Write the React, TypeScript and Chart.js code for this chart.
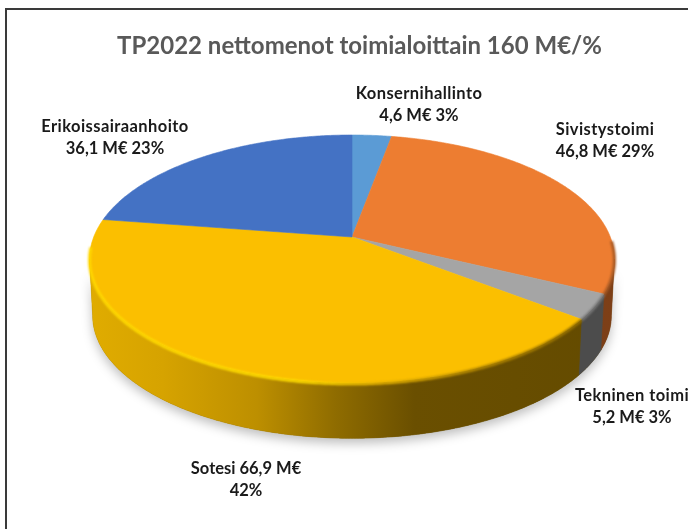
import React, { useEffect, useRef } from "react";
import { Chart, registerables } from "chart.js";

Chart.register(...registerables);

const categories = ["Konsernihallinto", "Sivistystoimi", "Tekninen toimi", "Sotesi", "Erikoissairaanhoito"];
const valuesMeur = [4.6, 46.8, 5.2, 66.9, 36.1];
const valueTexts = ["4,6 M€", "46,8 M€", "5,2 M€", "66,9 M€", "36,1 M€"];
const percentTexts = ["3%", "29%", "3%", "42%", "23%"];
const sliceColors = ["#5B9BD5", "#ED7D31", "#A5A5A5", "#FBBF00", "#4472C4"];
const titleText = "TP2022 nettomenot toimialoittain 160 M€/%";

// wall shading per slice: [position along x 0..1 of pie width, colour]
const wallStops: [number, string][][] = [
  [[0, "#2f5d86"], [1, "#2f5d86"]],
  [[0, "#6e3a16"], [1, "#7d3f17"]],
  [[0, "#4c4c4c"], [1, "#4c4c4c"]],
  [[0, "#e0ac00"], [0.14, "#d6a300"], [0.32, "#bd8f00"], [0.47, "#8f6c00"], [0.62, "#6a4f00"], [1, "#644b00"]],
  [[0, "#2b4a80"], [1, "#2b4a80"]],
];
const rimStops: [number, string][][] = [
  [[0, "#5B9BD5"], [1, "#5B9BD5"]],
  [[0, "#a85a24"], [1, "#a85a24"]],
  [[0, "#777777"], [1, "#777777"]],
  [[0, "#ffd800"], [0.4, "#ffdc00"], [0.55, "#e8b400"], [0.75, "#b08500"], [1, "#8a6800"]],
  [[0, "#4472C4"], [1, "#4472C4"]],
];
const labelLines: string[][] = [
  [categories[0], `${valueTexts[0]} ${percentTexts[0]}`],
  [categories[1], `${valueTexts[1]} ${percentTexts[1]}`],
  [categories[2], `${valueTexts[2]} ${percentTexts[2]}`],
  [`${categories[3]} ${valueTexts[3]}`, percentTexts[3]],
  [categories[4], `${valueTexts[4]} ${percentTexts[4]}`],
];
const labelAnchors = [
  { x: 419, y: 94 },
  { x: 605, y: 130 },
  { x: 632, y: 396 },
  { x: 246, y: 469 },
  { x: 115, y: 127 },
];

// perspective projection of the pie plane
const CX = 352, CY = 237, RX = 258.3, RY = 120.1, TILT = 0.1775, DEPTH = 57;
const PIE_L = 89, PIE_W = 525;

function project(a: number, r: number, h: number) {
  const u = Math.cos(a) * r, v = Math.sin(a) * r;
  const w = 1 - TILT * v;
  const s = 1 - 0.012 * h;
  return { x: CX + (RX * s * u) / w, y: CY + (RY * s * v) / w + DEPTH * h };
}

function tracePoints(ctx: CanvasRenderingContext2D, a0: number, a1: number, h: number, first: boolean) {
  const n = Math.max(2, Math.ceil(Math.abs(a1 - a0) / 0.01));
  for (let i = 0; i <= n; i++) {
    const a = a0 + ((a1 - a0) * i) / n;
    const p = project(a, 1, h);
    if (i === 0 && first) ctx.moveTo(p.x, p.y);
    else ctx.lineTo(p.x, p.y);
  }
}

function xGradient(ctx: CanvasRenderingContext2D, stops: [number, string][]) {
  const g = ctx.createLinearGradient(PIE_L, 0, PIE_L + PIE_W, 0);
  stops.forEach(([p, c]) => g.addColorStop(p, c));
  return g;
}

const pie3dPlugin = {
  id: "pie3d",
  beforeDraw(chart: any) {
    const { ctx, width, height } = chart;
    ctx.save();
    ctx.fillStyle = "#ffffff";
    ctx.fillRect(0, 0, width, height);
    ctx.strokeStyle = "#3a3a3a";
    ctx.lineWidth = 2;
    ctx.beginPath();
    ctx.moveTo(6, height + 4);
    ctx.lineTo(6, 9);
    ctx.lineTo(width + 4, 9);
    ctx.stroke();
    ctx.restore();
  },
  beforeDatasetsDraw(chart: any) {
    const { ctx } = chart;
    const arcs = chart.getDatasetMeta(0).data;
    const silhouette = Math.asin(TILT);
    ctx.save();

    // soft ground shadow
    ctx.save();
    ctx.shadowColor = "rgba(0,0,0,0.26)";
    ctx.shadowBlur = 11;
    ctx.shadowOffsetY = 5;
    ctx.fillStyle = "#6a4f00";
    ctx.beginPath();
    tracePoints(ctx, silhouette, Math.PI - silhouette, 1, true);
    tracePoints(ctx, Math.PI - silhouette, silhouette, 0, false);
    ctx.closePath();
    ctx.fill();
    ctx.restore();

    // side walls
    arcs.forEach((arc: any, i: number) => {
      const a0 = Math.max(arc.startAngle, silhouette);
      const a1 = Math.min(arc.endAngle, Math.PI - silhouette);
      if (a1 <= a0) return;
      ctx.beginPath();
      tracePoints(ctx, a0, a1, 0, true);
      tracePoints(ctx, a1, a0, 1, false);
      ctx.closePath();
      ctx.fillStyle = xGradient(ctx, wallStops[i]);
      ctx.strokeStyle = ctx.fillStyle;
      ctx.lineWidth = 0.6;
      ctx.fill();
      ctx.stroke();
    });

    // top face
    arcs.forEach((arc: any, i: number) => {
      ctx.beginPath();
      ctx.moveTo(CX, CY);
      tracePoints(ctx, arc.startAngle, arc.endAngle, 0, false);
      ctx.closePath();
      ctx.fillStyle = sliceColors[i];
      ctx.strokeStyle = sliceColors[i];
      ctx.lineWidth = 0.6;
      ctx.fill();
      ctx.stroke();
    });

    // bevel on the front rim
    arcs.forEach((arc: any, i: number) => {
      const a0 = Math.max(arc.startAngle, silhouette - 0.15);
      const a1 = Math.min(arc.endAngle, Math.PI - silhouette + 0.1);
      if (a1 <= a0) return;
      ctx.save();
      ctx.filter = "blur(1.2px)";
      ctx.beginPath();
      tracePoints(ctx, a0, a1, 0.015, true);
      ctx.strokeStyle = xGradient(ctx, rimStops[i]);
      ctx.lineWidth = 3;
      ctx.stroke();
      ctx.restore();
    });

    ctx.restore();
    return false;
  },
  afterDraw(chart: any) {
    const { ctx } = chart;
    ctx.save();
    ctx.font = "bold 16.5px Lato";
    ctx.fillStyle = "#1a1a1a";
    ctx.textAlign = "center";
    ctx.textBaseline = "middle";
    labelLines.forEach((lines, i) => {
      lines.forEach((line, j) => {
        // names are a little wider in the reference, figures are not
        (ctx as any).letterSpacing = /\d/.test(line) ? "0px" : "0.42px";
        ctx.fillText(line, labelAnchors[i].x, labelAnchors[i].y + j * 22);
      });
    });
    ctx.restore();
  },
};

export default function App() {
  const ref = useRef<HTMLCanvasElement | null>(null);
  useEffect(() => {
    const chart = new Chart(ref.current as HTMLCanvasElement, {
      type: "pie",
      data: {
        labels: categories,
        datasets: [{ data: valuesMeur, backgroundColor: sliceColors, borderWidth: 0 }],
      },
      options: {
        responsive: false,
        animation: false,
        layout: { padding: { top: 0, left: 31, right: 0, bottom: 0 } },
        plugins: {
          legend: { display: false },
          tooltip: { enabled: false },
          title: {
            display: true,
            text: titleText,
            color: "#595959",
            font: { family: "Lato", size: 24, weight: "bold" },
            padding: { top: 32, bottom: 10 },
          },
        },
      },
      plugins: [pie3dPlugin],
    } as any);
    return () => chart.destroy();
  }, []);
  return (
    <div style={{ position: "absolute", left: 0, top: 0, width: 688, height: 529, overflow: "hidden" }}>
      <canvas ref={ref} width={688} height={529} style={{ display: "block", filter: "blur(0.45px)" }} />
    </div>
  );
}
